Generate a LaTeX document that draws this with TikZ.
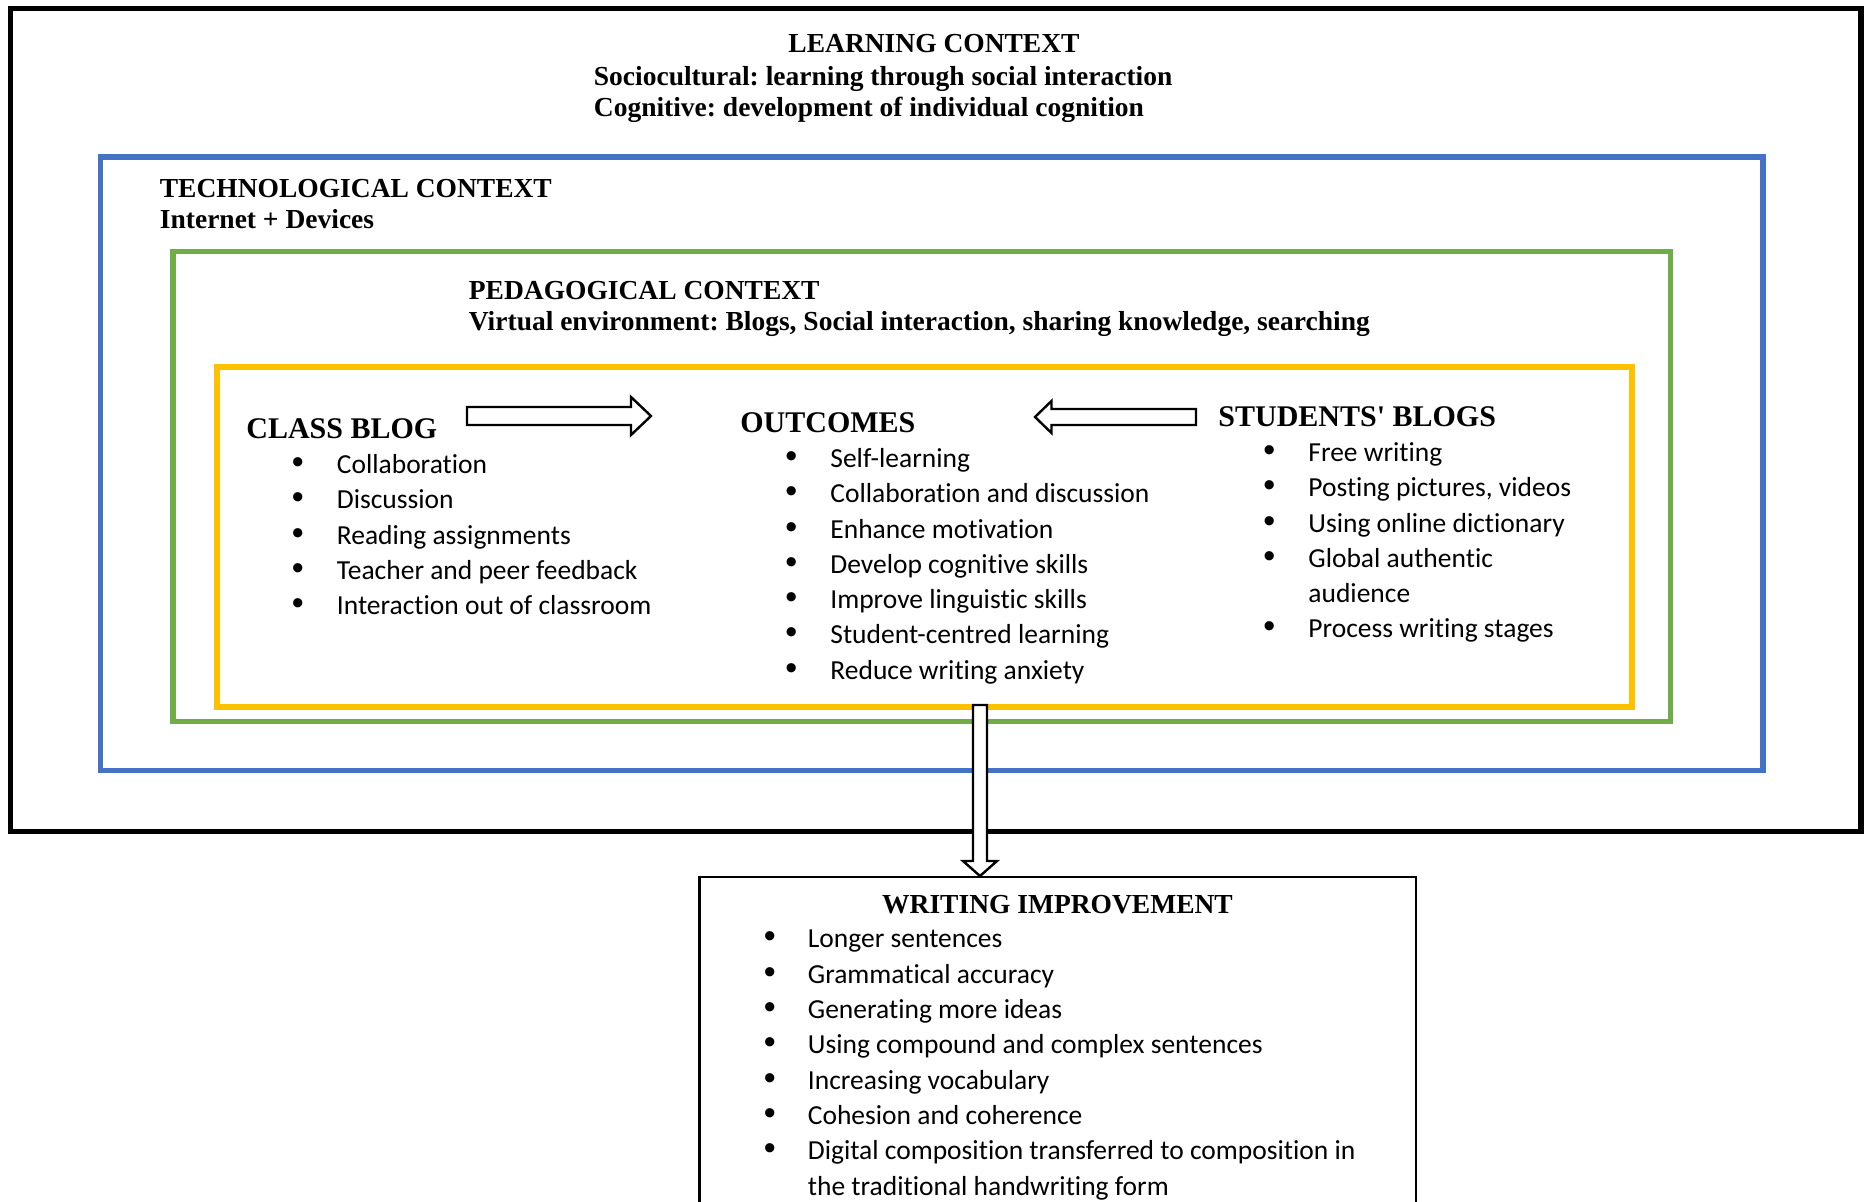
\documentclass[tikz,border=0pt]{standalone}
\usepackage{fontspec}
\setmainfont{Liberation Serif}
\newfontfamily\calibri[Ligatures=NoCommon]{Carlito}
\newfontfamily\bulletfont{Liberation Sans}
\usetikzlibrary{calc}
\frenchspacing

\definecolor{ctxblue}{HTML}{4472C4}
\definecolor{ctxgreen}{HTML}{70AD47}
\definecolor{ctxgold}{HTML}{FFC000}

\tikzstyle{frame} = [line width=2.6pt]
\tikzstyle{heading} = [inner sep=0, anchor=base west, align=left, font=\bfseries\fontsize{13.75}{15.9}\selectfont]
\tikzstyle{blogtitle} = [inner sep=0, anchor=base west, font=\bfseries\fontsize{15}{18}\selectfont]
\tikzstyle{itemlist} = [inner sep=0, anchor=base west, font=\calibri\fontsize{13.75}{17.65}\selectfont]
\tikzstyle{blockarrow} = [draw=black, fill=white, line width=1.2pt]

\newcommand{\bul}{\makebox[0pt]{\bulletfont\fontsize{17}{17}\selectfont •}}

\begin{document}
\begin{tikzpicture}[x=0.5pt, y=-0.5pt]
\clip (0,0) rectangle (1865,1202);
\fill[white] (0,0) rectangle (1865,1202);

% nested context frames
\draw[frame, black] (10.5,8.5) rectangle (1861,831.5);
\draw[frame, ctxblue] (100.5,157) rectangle (1763,770.5);
\draw[frame, ctxgreen] (173,251.5) rectangle (1670.5,721.5);
\draw[frame, ctxgold] (217,367) rectangle (1632,707);
\draw[line width=1.3pt] (699.5,877) rectangle (1416,1240);

% (two-line headings sit on their last line)
\node (learnhead) [heading, anchor=base] at (934,53) {LEARNING CONTEXT};
\node (learnlines) [heading] at (593.5,117) {Sociocultural: learning through social interaction\\Cognitive: development of individual cognition};

\node (techhead) [heading] at (159.5,229) {TECHNOLOGICAL CONTEXT\\Internet + Devices};

\node (pedhead) [heading] at (468.5,331) {PEDAGOGICAL CONTEXT\\Virtual environment: Blogs, Social interaction, sharing knowledge, searching};

\node (classblog) [blogtitle] at (246,439) {CLASS BLOG};
\node (outcomes) [blogtitle] at (740,433) {OUTCOMES};
\node (studblogs) [blogtitle] at (1218,427) {STUDENTS\textquotesingle{} BLOGS};

\node (classlist) [itemlist] at (297.5,473.5) {\begin{tabular}[t]{@{}c@{\hspace{19.5pt}}l@{}}
\bul & Collaboration\\
\bul & Discussion\\
\bul & Reading assignments\\
\bul & Teacher and peer feedback\\
\bul & Interaction out of classroom\\
\end{tabular}};

\node (outlist) [itemlist] at (791,467.5) {\begin{tabular}[t]{@{}c@{\hspace{19.5pt}}l@{}}
\bul & Self-learning\\
\bul & Collaboration and discussion\\
\bul & Enhance motivation\\
\bul & Develop cognitive skills\\
\bul & Improve linguistic skills\\
\bul & Student-centred learning\\
\bul & Reduce writing anxiety\\
\end{tabular}};

\node (studlist) [itemlist] at (1269,461.5) {\begin{tabular}[t]{@{}c@{\hspace{19.5pt}}l@{}}
\bul & Free writing\\
\bul & Posting pictures, videos\\
\bul & Using online dictionary\\
\bul & Global authentic\\
 & audience\\
\bul & Process writing stages\\
\end{tabular}};

\node (writehead) [heading, anchor=base] at (1057.5,914) {WRITING IMPROVEMENT};
\node (writelist) [itemlist] at (769.5,948) {\begin{tabular}[t]{@{}c@{\hspace{19pt}}l@{}}
\bul & Longer sentences\\
\bul & Grammatical accuracy\\
\bul & Generating more ideas\\
\bul & Using compound and complex sentences\\
\bul & Increasing vocabulary\\
\bul & Cohesion and coherence\\
\bul & Digital composition transferred to composition in\\
 & the traditional handwriting form\\
\end{tabular}};

% block arrows
\coordinate (cbtail) at (467,416);
\coordinate (octipl) at (651,416);
\coordinate (sbtail) at (1196,417);
\coordinate (octipr) at (1035,417);
\coordinate (ocfoot) at (980,705);
\coordinate (witop) at (980,876);

\draw[blockarrow] ($(cbtail)+(0,-9)$) -- ($(octipl)+(-20,-9)$) -- ($(octipl)+(-20,-19)$) -- (octipl)
  -- ($(octipl)+(-20,19)$) -- ($(octipl)+(-20,9)$) -- ($(cbtail)+(0,9)$) -- cycle;
\draw[blockarrow] ($(sbtail)+(0,-8)$) -- ($(octipr)+(16.5,-8)$) -- ($(octipr)+(16.5,-16)$) -- (octipr)
  -- ($(octipr)+(16.5,16)$) -- ($(octipr)+(16.5,8)$) -- ($(sbtail)+(0,8)$) -- cycle;
\draw[blockarrow] ($(ocfoot)+(-7,0)$) -- ($(witop)+(-7,-15)$) -- ($(witop)+(-17,-15)$) -- (witop)
  -- ($(witop)+(17,-15)$) -- ($(witop)+(7,-15)$) -- ($(ocfoot)+(7,0)$) -- cycle;
\end{tikzpicture}
\end{document}
